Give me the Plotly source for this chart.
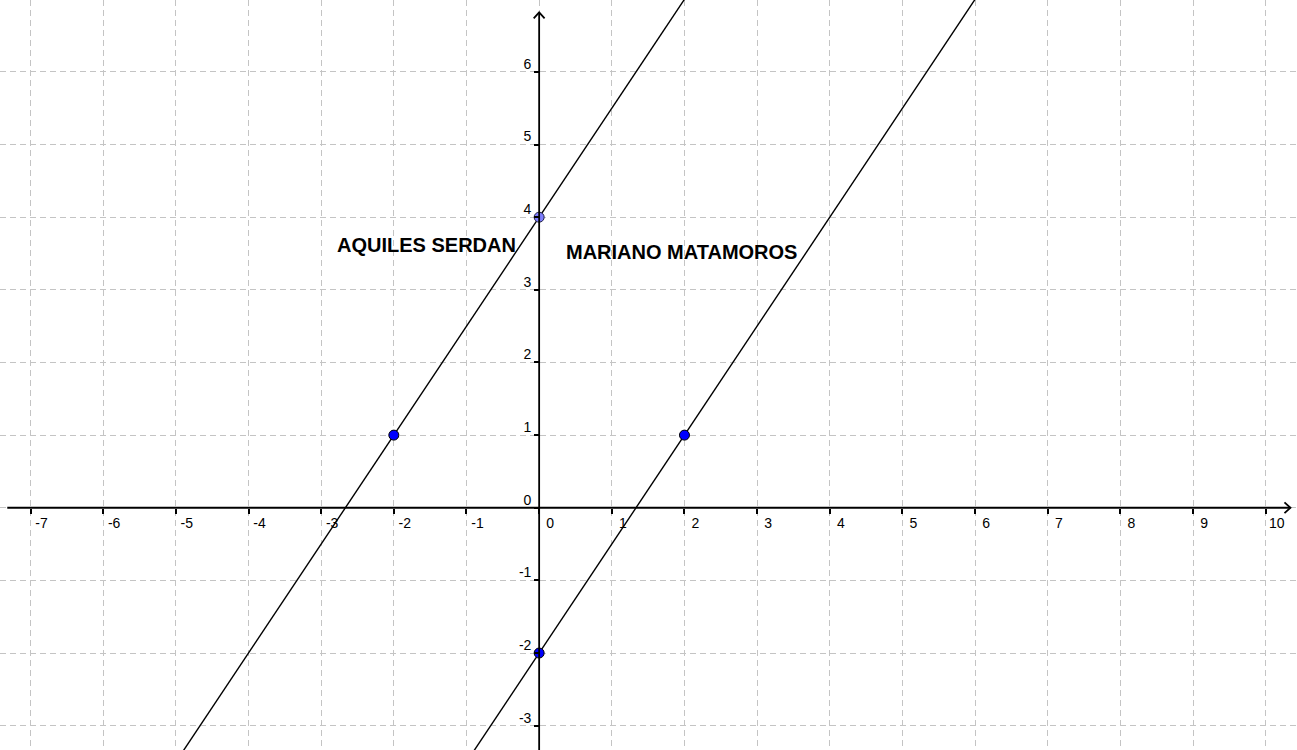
import plotly.graph_objects as go

# ---- data ----
x_ticks = [-7, -6, -5, -4, -3, -2, -1, 0, 1, 2, 3, 4, 5, 6, 7, 8, 9, 10]
x_tick_labels = ["-7", "-6", "-5", "-4", "-3", "-2", "-1", "0", "1", "2", "3", "4", "5", "6", "7", "8", "9", "10"]
y_ticks = [-3, -2, -1, 0, 1, 2, 3, 4, 5, 6]
y_tick_labels = ["-3", "-2", "-1", "0", "1", "2", "3", "4", "5", "6"]

# line through (-2,1) and (0,4), extended to the view
line1_x = [-5.0, 2.0]
line1_y = [-3.5, 7.0]
# line through (2,1) and (0,-2), extended to the view
line2_x = [-1.0, 6.0]
line2_y = [-3.5, 7.0]

points_x = [-2, 2, 0]
points_y = [1, 1, -2]
point_light_x = [0]
point_light_y = [4]

labels = ["AQUILES SERDAN", "MARIANO MATAMOROS"]
label_x = [-1.55, 1.96]
label_y = [3.62, 3.52]

x_range = [-7.42, 10.43]
y_range = [-3.335, 6.99]

# ---- figure ----
fig = go.Figure()

fig.add_trace(go.Scatter(x=line1_x, y=line1_y, mode="lines",
                         line=dict(color="black", width=1.4), hoverinfo="skip"))
fig.add_trace(go.Scatter(x=line2_x, y=line2_y, mode="lines",
                         line=dict(color="black", width=1.4), hoverinfo="skip"))
fig.add_trace(go.Scatter(x=points_x, y=points_y, mode="markers",
                         marker=dict(size=10, color="#0000ff", line=dict(color="black", width=1))))
fig.add_trace(go.Scatter(x=point_light_x, y=point_light_y, mode="markers",
                         marker=dict(size=10, color="#7f7fff", line=dict(color="#222244", width=1))))

for t, lx, ly in zip(labels, label_x, label_y):
    fig.add_annotation(x=lx, y=ly, text=t, showarrow=False,
                       font=dict(family="Liberation Sans, Arial", size=20, color="black", weight="bold"))

# axes lines with arrows
ax_x_end = 10.34
ax_y_end = 6.82
axis_line = dict(color="black", width=1.8)
fig.add_shape(type="line", x0=x_range[0] + 0.1, x1=ax_x_end, y0=0, y1=0, line=axis_line)
fig.add_shape(type="line", x0=0, x1=0, y0=y_range[0] - 0.1, y1=ax_y_end, line=axis_line)
a = 0.075
fig.add_shape(type="path",
              path=f"M {ax_x_end - a*1.1} {a} L {ax_x_end} 0 L {ax_x_end - a*1.1} {-a}",
              line=axis_line)
fig.add_shape(type="path",
              path=f"M {-a} {ax_y_end - a*1.1} L 0 {ax_y_end} L {a} {ax_y_end - a*1.1}",
              line=axis_line)

xpos = (0 - y_range[0]) / (y_range[1] - y_range[0])
ypos = (0 - x_range[0]) / (x_range[1] - x_range[0])

grid = dict(showgrid=True, gridcolor="#c4c4c4", gridwidth=1, griddash="6px,4px",
            zeroline=False, showline=False, ticks="outside", ticklen=5,
            tickcolor="black", tickwidth=1.5,
            tickfont=dict(family="Liberation Sans, Arial", size=14, color="black"))

fig.update_layout(
    width=1297, height=750,
    margin=dict(l=0, r=0, t=0, b=0),
    paper_bgcolor="white", plot_bgcolor="white",
    showlegend=False,
    xaxis=dict(range=x_range, tickmode="array", tickvals=x_ticks, ticktext=x_tick_labels,
               anchor="free", position=xpos, ticklabelshift=11, ticklabelstandoff=-3,
               automargin=False, **grid),
    yaxis=dict(range=y_range, tickmode="array", tickvals=y_ticks, ticktext=y_tick_labels,
               anchor="free", position=ypos, ticklabelshift=-8, ticklabelstandoff=0,
               automargin=False, **grid),
)

fig.write_html("out.html", config={"displayModeBar": False},
               post_script="document.body.style.margin='0';document.body.style.overflow='hidden';")
